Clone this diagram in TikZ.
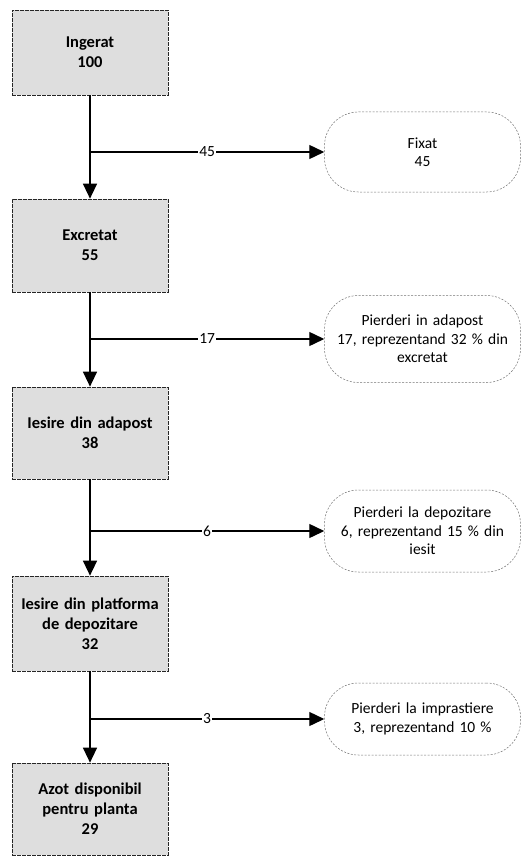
\documentclass[tikz,border=0pt]{standalone}
\usepackage{fontspec}
\setmainfont{Carlito}
\usetikzlibrary{arrows.meta}
\begin{document}
\begin{tikzpicture}[x=1pt,y=-1pt,
 flowbox/.style={draw=black!85, dash pattern=on 4pt off 1pt, line width=0.7pt, fill=black!13, minimum width=156pt, text width=154pt, align=center, font=\bfseries\fontsize{16.5}{20}\selectfont, inner sep=1pt},
 lossbox/.style={draw=black!55, dash pattern=on 2pt off 1.5pt, line width=0.5pt, rounded corners=34pt, minimum width=196pt, text width=194pt, align=center, font=\fontsize{15.5}{18.5}\selectfont, inner sep=1pt},
 flow/.style={line width=1.4pt, -{Triangle[length=15pt,width=14pt]}},
 lbl/.style={fill=white, inner sep=1pt, font=\fontsize{15.5}{17}\selectfont}]
\useasboundingbox (0,0) rectangle (522,856);
\node[flowbox, minimum height=85pt] (b1) at (90,52.5) {Ingerat\\100};
\node[flowbox, minimum height=93pt] (b2) at (90,245.5) {Excretat\\55};
\node[flowbox, minimum height=92pt] (b3) at (90,433) {Iesire din adapost\\38};
\node[flowbox, minimum height=95pt] (b4) at (90,623.5) {Iesire din platforma\\de depozitare\\32};
\node[flowbox, minimum height=92pt] (b5) at (90,809) {Azot disponibil\\pentru planta\\29};
\node[lossbox, minimum height=80pt] (l1) at (422.5,152) {Fixat\\45};
\node[lossbox, minimum height=87pt] (l2) at (422.5,339) {Pierderi in adapost\\17, reprezentand 32 \% din\\excretat};
\node[lossbox, minimum height=82pt] (l3) at (422.5,531) {Pierderi la depozitare\\6, reprezentand 15 \% din\\iesit};
\node[lossbox, minimum height=72pt] (l4) at (422.5,719) {Pierderi la imprastiere\\3, reprezentand 10 \%};
\coordinate (j1) at (b1.south |- l1.west);
\coordinate (j2) at (b2.south |- l2.west);
\coordinate (j3) at (b3.south |- l3.west);
\coordinate (j4) at (b4.south |- l4.west);
\draw[flow] (b1.south) -- (b2.north);
\draw[flow] (b2.south) -- (b3.north);
\draw[flow] (b3.south) -- (b4.north);
\draw[flow] (b4.south) -- (b5.north);
\draw[flow] (j1) -- node[lbl]{45} (l1.west);
\draw[flow] (j2) -- node[lbl]{17} (l2.west);
\draw[flow] (j3) -- node[lbl]{6} (l3.west);
\draw[flow] (j4) -- node[lbl]{3} (l4.west);
\end{tikzpicture}
\end{document}
